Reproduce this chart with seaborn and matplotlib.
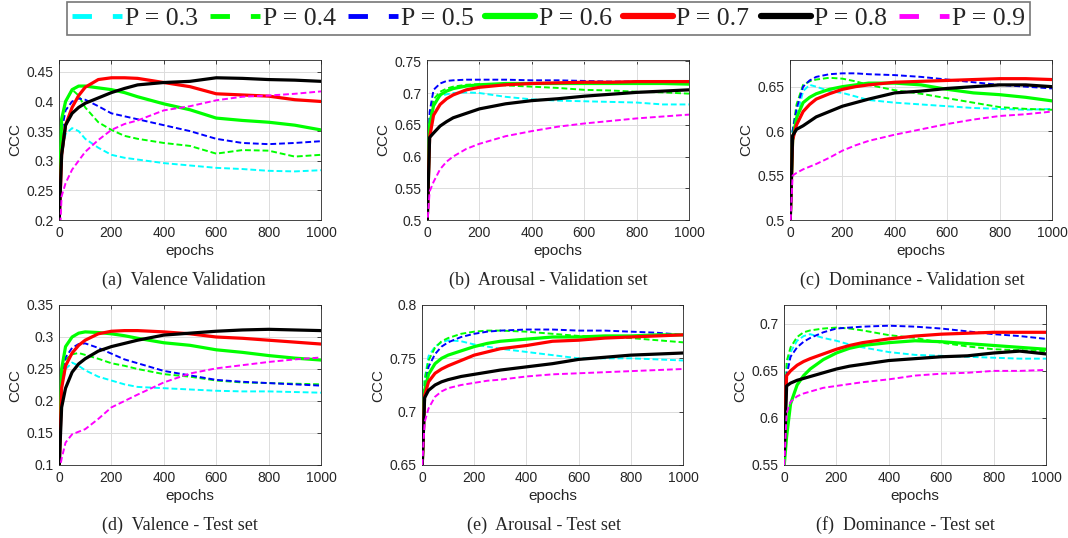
import numpy as np
import pandas as pd
import matplotlib
matplotlib.use('Agg')
import matplotlib.pyplot as plt
from matplotlib.lines import Line2D
import seaborn as sns

sns.set_theme(style='white')
plt.rcParams['font.family'] = ['Liberation Sans', 'DejaVu Sans']

epochs = [1, 10, 25, 50, 75, 100, 150, 200, 250, 300, 400, 500, 600, 700, 800, 900, 1000]
p_labels = ['P = 0.3', 'P = 0.4', 'P = 0.5', 'P = 0.6', 'P = 0.7', 'P = 0.8', 'P = 0.9']
colors = ['#00ffff', '#00ff00', '#0000ff', '#00ff00', '#ff0000', '#000000', '#ff00ff']
dashed = [True, True, True, False, False, False, True]

# (a) Valence Validation
val_valid = [
    [0.22, 0.31, 0.345, 0.355, 0.35, 0.337, 0.322, 0.31, 0.305, 0.302, 0.296, 0.292, 0.288, 0.286, 0.283, 0.282, 0.284],
    [0.22, 0.36, 0.40, 0.42, 0.41, 0.39, 0.365, 0.352, 0.342, 0.337, 0.33, 0.325, 0.312, 0.318, 0.317, 0.307, 0.31],
    [0.22, 0.35, 0.385, 0.40, 0.405, 0.403, 0.392, 0.38, 0.375, 0.37, 0.36, 0.35, 0.337, 0.33, 0.328, 0.33, 0.333],
    [0.22, 0.37, 0.40, 0.42, 0.426, 0.426, 0.423, 0.42, 0.415, 0.408, 0.396, 0.386, 0.372, 0.368, 0.365, 0.36, 0.352],
    [0.20, 0.31, 0.36, 0.39, 0.41, 0.424, 0.437, 0.44, 0.44, 0.439, 0.432, 0.425, 0.413, 0.411, 0.409, 0.403, 0.40],
    [0.20, 0.31, 0.36, 0.38, 0.39, 0.397, 0.406, 0.415, 0.422, 0.428, 0.432, 0.434, 0.44, 0.439, 0.437, 0.436, 0.434],
    [0.15, 0.24, 0.262, 0.285, 0.30, 0.315, 0.335, 0.352, 0.362, 0.368, 0.385, 0.392, 0.402, 0.408, 0.41, 0.413, 0.417],
]
# (b) Arousal - Validation set
aro_valid = [
    [0.50, 0.66, 0.685, 0.695, 0.698, 0.70, 0.701, 0.70, 0.697, 0.694, 0.69, 0.688, 0.687, 0.686, 0.685, 0.682, 0.682],
    [0.50, 0.66, 0.69, 0.702, 0.707, 0.71, 0.713, 0.714, 0.713, 0.712, 0.71, 0.708, 0.705, 0.704, 0.702, 0.701, 0.699],
    [0.50, 0.67, 0.705, 0.715, 0.719, 0.72, 0.721, 0.721, 0.721, 0.721, 0.72, 0.72, 0.719, 0.718, 0.718, 0.717, 0.716],
    [0.50, 0.65, 0.68, 0.697, 0.703, 0.707, 0.711, 0.713, 0.714, 0.715, 0.715, 0.715, 0.715, 0.715, 0.715, 0.715, 0.714],
    [0.50, 0.63, 0.665, 0.682, 0.691, 0.697, 0.705, 0.709, 0.711, 0.713, 0.715, 0.716, 0.717, 0.717, 0.718, 0.718, 0.718],
    [0.50, 0.63, 0.637, 0.648, 0.655, 0.661, 0.668, 0.675, 0.679, 0.683, 0.688, 0.691, 0.695, 0.698, 0.701, 0.703, 0.705],
    [0.49, 0.545, 0.56, 0.58, 0.592, 0.60, 0.612, 0.62, 0.626, 0.632, 0.64, 0.647, 0.652, 0.656, 0.66, 0.663, 0.666],
]
# (c) Dominance - Validation set
dom_valid = [
    [0.50, 0.60, 0.615, 0.645, 0.652, 0.65, 0.645, 0.643, 0.639, 0.635, 0.632, 0.63, 0.628, 0.626, 0.625, 0.624, 0.625],
    [0.50, 0.60, 0.63, 0.652, 0.656, 0.658, 0.66, 0.659, 0.656, 0.652, 0.646, 0.642, 0.637, 0.632, 0.627, 0.625, 0.624],
    [0.50, 0.60, 0.625, 0.65, 0.657, 0.661, 0.664, 0.665, 0.665, 0.664, 0.663, 0.661, 0.658, 0.655, 0.652, 0.65, 0.648],
    [0.50, 0.59, 0.615, 0.632, 0.638, 0.642, 0.647, 0.65, 0.652, 0.654, 0.654, 0.652, 0.647, 0.643, 0.641, 0.638, 0.634],
    [0.50, 0.59, 0.607, 0.622, 0.63, 0.636, 0.642, 0.647, 0.65, 0.652, 0.655, 0.656, 0.657, 0.658, 0.659, 0.659, 0.658],
    [0.50, 0.595, 0.602, 0.606, 0.611, 0.616, 0.622, 0.628, 0.632, 0.636, 0.643, 0.645, 0.648, 0.65, 0.652, 0.652, 0.65],
    [0.49, 0.55, 0.553, 0.557, 0.56, 0.563, 0.57, 0.578, 0.584, 0.589, 0.596, 0.602, 0.608, 0.613, 0.617, 0.619, 0.622],
]
# (d) Valence - Test set
val_test = [
    [0.10, 0.22, 0.25, 0.26, 0.255, 0.248, 0.238, 0.232, 0.226, 0.222, 0.22, 0.218, 0.216, 0.215, 0.215, 0.214, 0.213],
    [0.10, 0.24, 0.265, 0.273, 0.275, 0.272, 0.266, 0.259, 0.255, 0.25, 0.242, 0.238, 0.232, 0.229, 0.228, 0.227, 0.226],
    [0.10, 0.24, 0.268, 0.283, 0.289, 0.29, 0.283, 0.274, 0.265, 0.259, 0.247, 0.24, 0.233, 0.23, 0.228, 0.226, 0.224],
    [0.10, 0.25, 0.285, 0.30, 0.306, 0.308, 0.307, 0.305, 0.302, 0.298, 0.291, 0.287, 0.28, 0.276, 0.271, 0.267, 0.264],
    [0.10, 0.22, 0.255, 0.275, 0.287, 0.295, 0.305, 0.309, 0.31, 0.31, 0.308, 0.305, 0.30, 0.298, 0.295, 0.292, 0.289],
    [0.10, 0.19, 0.22, 0.245, 0.258, 0.266, 0.278, 0.285, 0.29, 0.295, 0.303, 0.306, 0.309, 0.311, 0.312, 0.311, 0.31],
    [0.09, 0.11, 0.135, 0.148, 0.152, 0.156, 0.172, 0.19, 0.20, 0.21, 0.229, 0.243, 0.251, 0.256, 0.261, 0.265, 0.268],
]
# (e) Arousal - Test set
aro_test = [
    [0.65, 0.73, 0.752, 0.761, 0.765, 0.767, 0.766, 0.763, 0.761, 0.759, 0.756, 0.753, 0.75, 0.75, 0.75, 0.749, 0.748],
    [0.65, 0.73, 0.748, 0.76, 0.766, 0.769, 0.773, 0.775, 0.776, 0.776, 0.775, 0.773, 0.771, 0.77, 0.769, 0.767, 0.765],
    [0.65, 0.72, 0.742, 0.754, 0.761, 0.765, 0.77, 0.773, 0.775, 0.776, 0.777, 0.777, 0.776, 0.776, 0.775, 0.774, 0.772],
    [0.65, 0.72, 0.735, 0.745, 0.75, 0.753, 0.757, 0.761, 0.764, 0.766, 0.768, 0.77, 0.77, 0.771, 0.771, 0.772, 0.772],
    [0.65, 0.715, 0.728, 0.736, 0.74, 0.743, 0.748, 0.753, 0.756, 0.759, 0.762, 0.766, 0.767, 0.769, 0.77, 0.771, 0.772],
    [0.65, 0.713, 0.72, 0.725, 0.728, 0.73, 0.733, 0.735, 0.737, 0.739, 0.742, 0.745, 0.749, 0.751, 0.753, 0.754, 0.755],
    [0.65, 0.69, 0.703, 0.714, 0.719, 0.722, 0.725, 0.727, 0.729, 0.73, 0.733, 0.735, 0.736, 0.737, 0.738, 0.739, 0.74],
]
# (f) Dominance - Test set
dom_test = [
    [0.55, 0.655, 0.67, 0.682, 0.687, 0.689, 0.685, 0.682, 0.678, 0.675, 0.67, 0.667, 0.666, 0.665, 0.664, 0.663, 0.663],
    [0.55, 0.66, 0.675, 0.686, 0.691, 0.693, 0.695, 0.696, 0.695, 0.693, 0.688, 0.685, 0.68, 0.676, 0.673, 0.672, 0.671],
    [0.55, 0.645, 0.665, 0.675, 0.681, 0.685, 0.691, 0.695, 0.696, 0.697, 0.698, 0.697, 0.695, 0.692, 0.689, 0.687, 0.684],
    [0.55, 0.58, 0.615, 0.635, 0.645, 0.652, 0.662, 0.669, 0.674, 0.677, 0.68, 0.682, 0.681, 0.679, 0.677, 0.675, 0.673],
    [0.58, 0.645, 0.65, 0.656, 0.66, 0.663, 0.668, 0.673, 0.677, 0.68, 0.684, 0.687, 0.689, 0.69, 0.691, 0.691, 0.691],
    [0.56, 0.634, 0.637, 0.64, 0.642, 0.644, 0.648, 0.652, 0.655, 0.657, 0.661, 0.663, 0.665, 0.666, 0.669, 0.671, 0.668],
    [0.55, 0.605, 0.617, 0.623, 0.626, 0.628, 0.632, 0.634, 0.636, 0.638, 0.641, 0.645, 0.647, 0.648, 0.65, 0.65, 0.651],
]

panels = [
    (val_valid, (0.2, 0.47), [0.2, 0.25, 0.3, 0.35, 0.4, 0.45], '(a)  Valence Validation'),
    (aro_valid, (0.5, 0.752), [0.5, 0.55, 0.6, 0.65, 0.7, 0.75], '(b)  Arousal - Validation set'),
    (dom_valid, (0.5, 0.68), [0.5, 0.55, 0.6, 0.65], '(c)  Dominance - Validation set'),
    (val_test, (0.1, 0.35), [0.1, 0.15, 0.2, 0.25, 0.3, 0.35], '(d)  Valence - Test set'),
    (aro_test, (0.65, 0.8), [0.65, 0.7, 0.75, 0.8], '(e)  Arousal - Test set'),
    (dom_test, (0.55, 0.72), [0.55, 0.6, 0.65, 0.7], '(f)  Dominance - Test set'),
]

# axes rectangles in pixels (left, top, right, bottom) and caption centres
W, H = 1068, 538
boxes = [(59, 60, 321, 220), (427, 60, 689, 220), (790, 60, 1052, 220),
         (59, 305, 321, 465), (422, 305, 683, 465), (784, 305, 1046, 465)]
captions_xy = [(184, 280), (548, 280), (912, 280), (180, 525), (544, 525), (905, 525)]

fig = plt.figure(figsize=(W / 100, H / 100), dpi=100)

tick_col = '#262626'
for (data, ylim, yticks, cap), (l, t, r, b), (cx, cy) in zip(panels, boxes, captions_xy):
    ax = fig.add_axes([l / W, 1 - b / H, (r - l) / W, (b - t) / H])
    df = pd.DataFrame({'epoch': epochs})
    for i, vals in enumerate(data):
        df['y'] = vals
        if dashed[i]:
            sns.lineplot(data=df, x='epoch', y='y', ax=ax, color=colors[i],
                         lw=1.4, dashes=False, linestyle=(0, (3, 1.5)), zorder=2 + i)
        else:
            sns.lineplot(data=df, x='epoch', y='y', ax=ax, color=colors[i],
                         lw=2.3, zorder=2 + i)
    ax.set_xlim(0, 1000)
    ax.set_ylim(*ylim)
    ax.set_xticks([0, 200, 400, 600, 800, 1000])
    ax.set_yticks(yticks)
    ax.set_yticklabels([('%g' % v) for v in yticks])
    ax.grid(True, color='#dcdcdc', lw=0.7)
    ax.tick_params(direction='in', length=3, width=0.6, colors=tick_col,
                   labelsize=10, top=True, right=True, pad=4)
    for s in ax.spines.values():
        s.set_color('#262626')
        s.set_linewidth(0.6)
    ax.set_xlabel('epochs', fontsize=11, color=tick_col, labelpad=3)
    ax.set_ylabel('CCC', fontsize=11, color=tick_col, labelpad=3)
    fig.text(cx / W, 1 - cy / H, cap, ha='center', va='center',
             fontsize=13, family='Liberation Serif')

handles = []
for c, d in zip(colors, dashed):
    if d:
        handles.append(Line2D([], [], color=c, lw=3.5, linestyle=(0, (4, 4.3))))
    else:
        handles.append(Line2D([], [], color=c, lw=4.5))
leg = fig.legend(handles, p_labels, loc='upper center', bbox_to_anchor=(0.5136, 0.997),
                 ncol=7, frameon=True, fancybox=False,
                 prop={'family': 'Liberation Serif', 'size': 18.5},
                 handlelength=1.95, handletextpad=0.12, columnspacing=0.45,
                 borderpad=0.2, borderaxespad=0.0)
leg.get_frame().set_edgecolor('#555555')
leg.get_frame().set_linewidth(1.2)

fig.savefig('out.png', dpi=100)
